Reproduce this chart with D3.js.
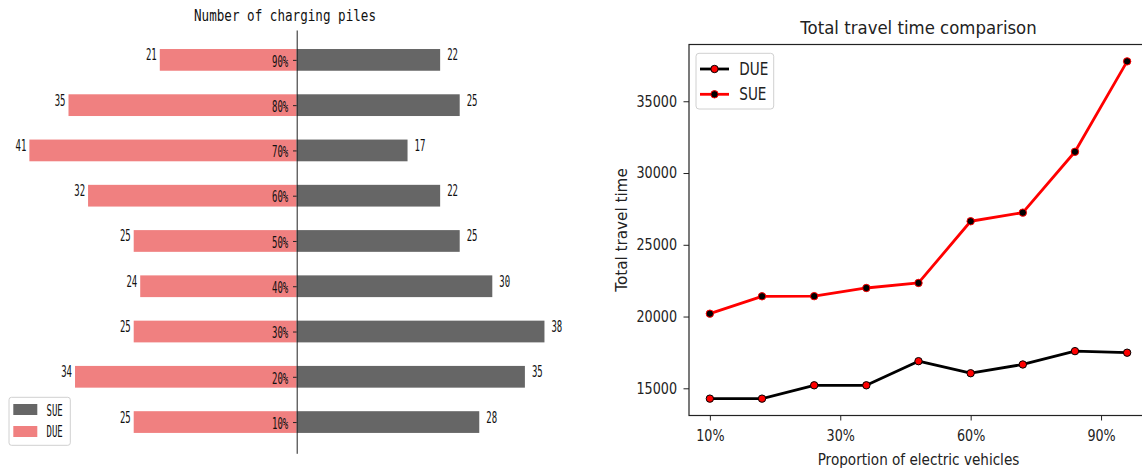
<!DOCTYPE html>
<html>
<head>
<meta charset="utf-8">
<script src="https://cdn.jsdelivr.net/npm/d3@7"></script>
<style>
  body { margin: 0; background: #fff; }
  svg { display: block; }
</style>
</head>
<body>
<svg id="chart" width="1142" height="470"></svg>
<script>
// left chart: charging piles per EV share
var rateLabels = ["10%", "20%", "30%", "40%", "50%", "60%", "70%", "80%", "90%"];
var sueCount = [28, 35, 38, 30, 25, 22, 17, 25, 22];
var dueCount = [25, 34, 25, 24, 25, 32, 41, 35, 21];

// right chart: total travel time
var dueTime = [14280, 14280, 15210, 15210, 16890, 16050, 16660, 17590, 17480];
var sueTime = [20200, 21410, 21420, 21990, 22340, 26640, 27240, 31480, 37780];
var xTickPos = [0, 2.5, 5, 7.5];
var xTickLabels = ["10%", "30%", "60%", "90%"];
var yTicks = [15000, 20000, 25000, 30000, 35000];

var svg = d3.select("#chart");
svg.append("rect").attr("width", 1142).attr("height", 470).attr("fill", "#fff");

// the picture is squeezed sideways, so text gets a horizontal scale
function squeeze(sel, x, y, sx) {
  sel.attr("transform", "translate(" + x + "," + y + ") scale(" + sx + ",1)");
}
function squeezeAxis(g, sx, xoff) {
  g.selectAll("text").attr("x", xoff / sx).attr("transform", "scale(" + sx + ",1)");
}

/* ---------- left chart ---------- */
var monoFont = "'DejaVu Sans Mono', monospace";
var cx = 296.7;
var xL = d3.scaleLinear().domain([-45, 45]).range([cx - 45 * 6.52, cx + 45 * 6.52]);
var yL = d3.scaleLinear().domain([-0.69, 8.66]).range([453.3, 30]);
var barH = 0.48 * (yL(0) - yL(1));

var left = svg.append("g");

left.selectAll(".due")
  .data(dueCount)
  .enter().append("rect")
  .attr("class", "due")
  .attr("x", function(d) { return xL(-d); })
  .attr("y", function(d, i) { return yL(i) - barH / 2; })
  .attr("width", function(d) { return xL(0) - xL(-d); })
  .attr("height", barH)
  .attr("fill", "#f08080");

left.selectAll(".sue")
  .data(sueCount)
  .enter().append("rect")
  .attr("class", "sue")
  .attr("x", xL(0))
  .attr("y", function(d, i) { return yL(i) - barH / 2; })
  .attr("width", function(d) { return xL(d) - xL(0); })
  .attr("height", barH)
  .attr("fill", "#666666");

left.selectAll(".sueLab")
  .data(sueCount)
  .enter().append("text")
  .attr("class", "sueLab")
  .style("font-family", monoFont).style("font-size", "15.5px")
  .attr("fill", "#111")
  .each(function(d, i) { squeeze(d3.select(this), xL(d) + 7, yL(i) + 0.5, 0.58); })
  .text(function(d) { return d; });

left.selectAll(".dueLab")
  .data(dueCount)
  .enter().append("text")
  .attr("class", "dueLab")
  .style("font-family", monoFont).style("font-size", "15.5px")
  .attr("text-anchor", "end")
  .attr("fill", "#111")
  .each(function(d, i) { squeeze(d3.select(this), xL(-d) - 3, yL(i) + 0.5, 0.58); })
  .text(function(d) { return d; });

var axL = left.append("g")
  .attr("transform", "translate(" + cx + ",0)")
  .call(d3.axisLeft(yL)
    .tickValues(d3.range(rateLabels.length))
    .tickFormat(function(i) { return rateLabels[i]; })
    .tickSize(3.7).tickPadding(5).tickSizeOuter(0));
axL.select(".domain").attr("stroke", "#222");
axL.selectAll("line").attr("stroke", "#222");
axL.selectAll("text").style("font-family", monoFont).style("font-size", "15.5px")
  .attr("dy", "0.4em").attr("fill", "#111");
squeezeAxis(axL, 0.58, -8.5);

squeeze(left.append("text")
  .style("font-family", monoFont).style("font-size", "15px")
  .attr("text-anchor", "middle").attr("fill", "#111")
  .text("Number of charging piles"), 285, 21, 0.84);

var legL = left.append("g");
legL.append("rect").attr("x", 9).attr("y", 397.3).attr("width", 61.3).attr("height", 48)
  .attr("rx", 2.5).attr("fill", "#fff").attr("stroke", "#d0d0d0");
var legLItems = [["SUE", "#666666"], ["DUE", "#f08080"]];
legL.selectAll(".item")
  .data(legLItems)
  .enter().append("rect")
  .attr("x", 13.3).attr("y", function(d, i) { return 404 + i * 22; })
  .attr("width", 24).attr("height", 11)
  .attr("fill", function(d) { return d[1]; });
legL.selectAll(".ltxt")
  .data(legLItems)
  .enter().append("text")
  .style("font-family", monoFont).style("font-size", "15.5px").attr("fill", "#111")
  .each(function(d, i) { squeeze(d3.select(this), 46.5, 415.5 + i * 21.7, 0.58); })
  .text(function(d) { return d[0]; });

/* ---------- right chart ---------- */
var sansFont = "'DejaVu Sans', sans-serif";
var sxR = 0.85;
var allT = dueTime.concat(sueTime);
var tMin = d3.min(allT), tMax = d3.max(allT), pad = (tMax - tMin) * 0.05;
var xR = d3.scaleLinear().domain([-0.4, 8.4]).range([689, 1148]);
var yR = d3.scaleLinear().domain([tMin - pad, tMax + pad]).range([415.5, 44.5]);

var right = svg.append("g");

var axY = right.append("g")
  .attr("transform", "translate(689,0)")
  .call(d3.axisLeft(yR).tickValues(yTicks).tickFormat(d3.format("d"))
    .tickSize(5.5).tickPadding(6).tickSizeOuter(0));
axY.select(".domain").remove();
axY.selectAll("line").attr("stroke", "#222");
axY.selectAll("text").style("font-family", sansFont).style("font-size", "15px").attr("fill", "#222");
squeezeAxis(axY, sxR, -12);

var axX = right.append("g")
  .attr("transform", "translate(0,415.5)")
  .call(d3.axisBottom(xR).tickValues(xTickPos)
    .tickFormat(function(d, i) { return xTickLabels[i]; })
    .tickSize(5).tickPadding(10).tickSizeOuter(0));
axX.select(".domain").remove();
axX.selectAll("line").attr("stroke", "#222");
axX.selectAll("text").style("font-family", sansFont).style("font-size", "15px").attr("fill", "#222");
squeezeAxis(axX, sxR, 0);

// spines
right.append("rect").attr("x", 689).attr("y", 44.5).attr("width", 1148 - 689).attr("height", 415.5 - 44.5)
  .attr("fill", "none").attr("stroke", "#222").attr("stroke-width", 1.2);

var line = d3.line()
  .x(function(d, i) { return xR(i); })
  .y(function(d) { return yR(d); });

var series = [
  { name: "DUE", values: dueTime, color: "#000", face: "#ff0000", edge: "#000" },
  { name: "SUE", values: sueTime, color: "#ff0000", face: "#000", edge: "#ff0000" }
];

series.forEach(function(s) {
  right.append("path")
    .datum(s.values)
    .attr("d", line)
    .attr("fill", "none")
    .attr("stroke", s.color)
    .attr("stroke-width", 2.8)
    .attr("stroke-linejoin", "round");
  right.selectAll(".pt-" + s.name)
    .data(s.values)
    .enter().append("circle")
    .attr("cx", function(d, i) { return xR(i); })
    .attr("cy", function(d) { return yR(d); })
    .attr("r", 3.7)
    .attr("fill", s.face)
    .attr("stroke", s.edge)
    .attr("stroke-width", 1);
});

squeeze(right.append("text")
  .style("font-family", sansFont).style("font-size", "18px")
  .attr("text-anchor", "middle").attr("fill", "#222")
  .text("Total travel time comparison"), 918.5, 34, 0.92);

right.append("text")
  .style("font-family", sansFont).style("font-size", "16px")
  .attr("text-anchor", "middle").attr("fill", "#222")
  .attr("transform", "translate(627,230) rotate(-90) scale(0.95,1)")
  .text("Total travel time");

squeeze(right.append("text")
  .style("font-family", sansFont).style("font-size", "16px")
  .attr("text-anchor", "middle").attr("fill", "#222")
  .text("Proportion of electric vehicles"), 918.5, 465, sxR);

var legR = right.append("g");
legR.append("rect").attr("x", 696).attr("y", 53.3).attr("width", 77.7).attr("height", 55.7)
  .attr("rx", 3).attr("fill", "#fff").attr("fill-opacity", 0.8).attr("stroke", "#d0d0d0");
series.forEach(function(s, i) {
  var ly = 69 + i * 25.3;
  legR.append("line").attr("x1", 700).attr("x2", 729).attr("y1", ly).attr("y2", ly)
    .attr("stroke", s.color).attr("stroke-width", 2.8);
  legR.append("circle").attr("cx", 714.5).attr("cy", ly).attr("r", 3.7)
    .attr("fill", s.face).attr("stroke", s.edge);
  squeeze(legR.append("text")
    .style("font-family", sansFont).style("font-size", "17px").attr("fill", "#222")
    .text(s.name), 739.3, ly + 6, 0.8);
});
</script>
</body>
</html>
